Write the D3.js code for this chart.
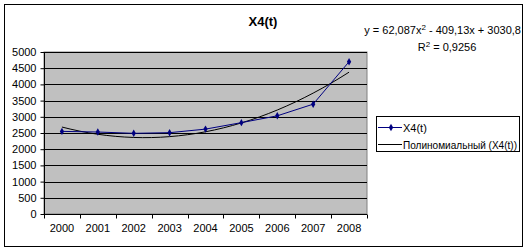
<!DOCTYPE html>
<html><head><meta charset="utf-8">
<script src="https://cdn.jsdelivr.net/npm/d3@7"></script>
<style>body{margin:0;background:#fff}svg{display:block;font-family:"Liberation Sans",Arial,sans-serif}</style>
</head><body>
<script>
const categories = ["2000","2001","2002","2003","2004","2005","2006","2007","2008"];
const values = [2550, 2530, 2490, 2510, 2620, 2820, 3030, 3390, 4700];
const yTicks = [0,500,1000,1500,2000,2500,3000,3500,4000,4500,5000];
const trendCoef = [62.087, -409.13, 3030.8];
const equationText = "y = 62,087x";
const r2Text = "R";
const title = "X4(t)";
const legendNames = ["X4(t)", "Полиномиальный (X4(t))"];

const W = 527, H = 250;
const svg = d3.select("body").append("svg").attr("width", W).attr("height", H);
svg.append("rect").attr("x",4.5).attr("y",4.5).attr("width",518).attr("height",242)
  .attr("fill","#fff").attr("stroke","#000");

const L = 44, R = 367, T = 52, B = 214;
const x = d3.scaleBand().domain(categories).range([L, R]);
const y = d3.scaleLinear().domain([0, 5000]).range([B, T]);

svg.append("rect").attr("x",L).attr("y",T).attr("width",R-L).attr("height",B-T)
  .attr("fill","#C0C0C0").attr("stroke","#808080");

svg.append("g").selectAll("line").data(yTicks.slice(1)).join("line")
  .attr("x1",L).attr("x2",R).attr("y1",d=>Math.round(y(d))+0.5).attr("y2",d=>Math.round(y(d))+0.5)
  .attr("stroke","#000");

const yAxis = svg.append("g").attr("transform",`translate(${L+0.5},0)`)
  .call(d3.axisLeft(y).tickValues(yTicks).tickSize(4).tickPadding(4).tickFormat(d3.format("d")).offset(0.5));
yAxis.select(".domain").attr("d", `M0,${T}V${B}`);
yAxis.selectAll("text").attr("font-size",11).attr("font-family","Liberation Sans, Arial").attr("fill","#000");

const xAxis = svg.append("g").attr("transform",`translate(0,${B+0.5})`)
  .call(d3.axisBottom(x).tickSize(0).tickPadding(10));
xAxis.select(".domain").attr("d", `M${L},0H${R}`);
xAxis.selectAll("text").attr("font-size",11).attr("font-family","Liberation Sans, Arial").attr("fill","#000");
xAxis.selectAll(".tickmark").data(d3.range(categories.length+1)).join("line")
  .attr("x1",i=>Math.round(L + i*x.step())+0.5).attr("x2",i=>Math.round(L + i*x.step())+0.5)
  .attr("y1",0).attr("y2",4).attr("stroke","#000");

// trendline from shown coefficients
const tx = d3.scaleLinear().domain([1, categories.length]).range([x(categories[0])+x.bandwidth()/2, x(categories[categories.length-1])+x.bandwidth()/2]);
const tpts = d3.range(1, categories.length+0.001, 0.25).map(t => [tx(t), y(trendCoef[0]*t*t + trendCoef[1]*t + trendCoef[2])]);
svg.append("path").attr("d", d3.line()(tpts)).attr("fill","none").attr("stroke","#000").attr("stroke-width",1);

const pts = values.map((v,i)=>[x(categories[i])+x.bandwidth()/2, y(v)]);
svg.append("path").attr("d", d3.line()(pts)).attr("fill","none").attr("stroke","#000080").attr("stroke-width",1);
const diamond = d3.symbol().type(d3.symbolDiamond).size(16);
svg.append("g").selectAll("path").data(pts).join("path")
  .attr("transform",d=>`translate(${d[0]},${d[1]})`).attr("d",diamond).attr("fill","#000080");

svg.append("text").attr("x",263).attr("y",26).attr("text-anchor","middle")
  .attr("font-size",13).attr("font-weight","bold").text(title);

const eq = svg.append("text").attr("x",521).attr("y",34).attr("text-anchor","end").attr("font-size",11);
eq.append("tspan").text(equationText);
eq.append("tspan").attr("font-size",8).attr("dy",-4).text("2");
eq.append("tspan").attr("dy",4).text(" - 409,13x + 3030,8");
const r2 = svg.append("text").attr("x",447).attr("y",51).attr("text-anchor","middle").attr("font-size",11);
r2.append("tspan").text(r2Text);
r2.append("tspan").attr("font-size",8).attr("dy",-4).text("2");
r2.append("tspan").attr("dy",4).text(" = 0,9256");

svg.append("rect").attr("x",376.5).attr("y",116.5).attr("width",143).attr("height",35).attr("fill","#fff").attr("stroke","#000");
svg.append("line").attr("x1",378).attr("x2",402).attr("y1",127.5).attr("y2",127.5).attr("stroke","#000080");
svg.append("path").attr("transform","translate(391,127.5)").attr("d",diamond).attr("fill","#000080");
svg.append("line").attr("x1",378).attr("x2",402).attr("y1",144.5).attr("y2",144.5).attr("stroke","#000");
svg.append("text").attr("x",403).attr("y",131.5).attr("font-size",11).text(legendNames[0]);
svg.append("text").attr("x",403).attr("y",148.5).attr("font-size",11)
  .attr("textLength",114).attr("lengthAdjust","spacingAndGlyphs").text(legendNames[1]);
</script>
</body></html>
